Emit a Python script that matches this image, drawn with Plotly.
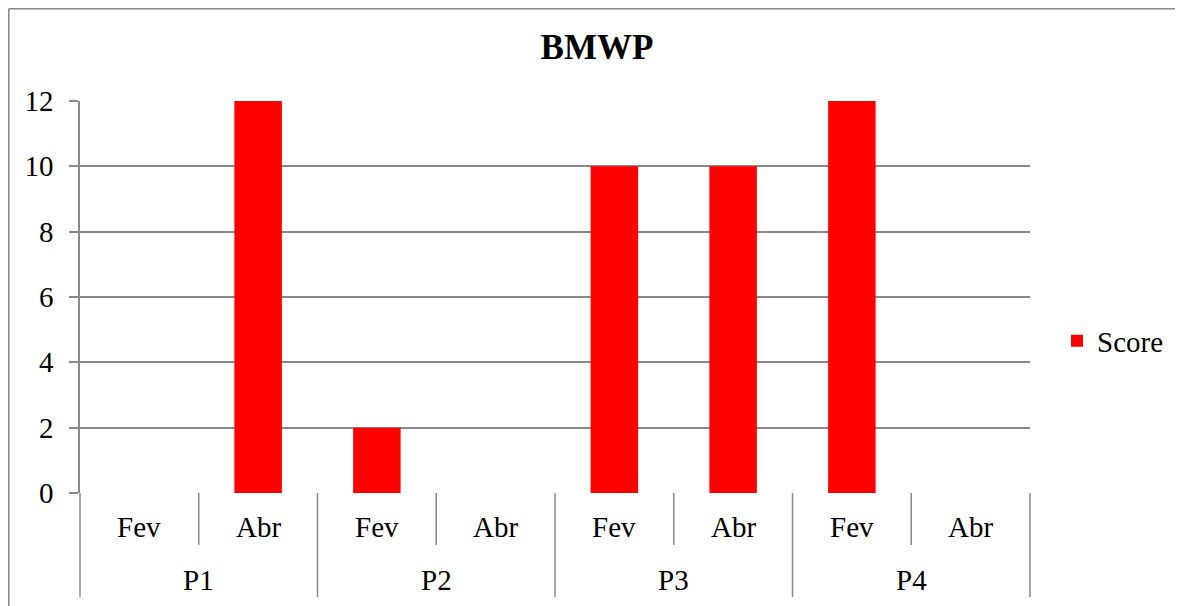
import plotly.graph_objects as go

# ---- data ----
groups = ["P1", "P1", "P2", "P2", "P3", "P3", "P4", "P4"]
months = ["Fev", "Abr", "Fev", "Abr", "Fev", "Abr", "Fev", "Abr"]
scores = [0, 12, 2, 0, 10, 10, 12, 0]
series_name = "Score"
chart_title = "BMWP"
y_ticks = [0, 2, 4, 6, 8, 10, 12]

GRAY = "#898989"
FONT = "Liberation Serif, Times New Roman, serif"
FS = 29
n = len(months)
x_idx = list(range(n))

fig = go.Figure()
fig.add_trace(go.Bar(
    x=x_idx, y=scores, name=series_name,
    marker=dict(color="#FF0000", line=dict(width=0)),
    width=0.4, showlegend=True,
))

# figure-pixel layout (page has an 8px body margin)
W, H = 1183, 606
L, R, T, B = 72, 1022, 93, 485
plot_h = B - T
plot_w = R - L

def py(pix):
    return (B - pix) / plot_h

def px(pix):
    return (pix - L) / plot_w

shapes = []
# chart frame (left and top edges visible)
shapes.append(dict(type="line", xref="paper", yref="paper",
                   x0=px(0.8), x1=px(W + 10), y0=py(0.8), y1=py(0.8),
                   line=dict(color=GRAY, width=1.6)))
shapes.append(dict(type="line", xref="paper", yref="paper",
                   x0=px(0.8), x1=px(0.8), y0=py(0.8), y1=py(H + 10),
                   line=dict(color=GRAY, width=1.6)))

# category dividers
for b in range(n + 1):
    long_div = (b == 0 or b == n or groups[b - 1] != groups[b])
    bottom = 589 if long_div else 537
    shapes.append(dict(type="line", xref="x domain", yref="paper",
                       x0=b / n, x1=b / n, y0=0, y1=py(bottom),
                       line=dict(color=GRAY, width=1.5)))

annotations = []
for i, m in enumerate(months):
    annotations.append(dict(x=i, xref="x", y=py(519), yref="paper",
                            text=m, showarrow=False, yanchor="middle",
                            font=dict(family=FONT, size=FS, color="black")))
seen = []
for g in groups:
    if g not in seen:
        seen.append(g)
for g in seen:
    idx = [i for i, gg in enumerate(groups) if gg == g]
    annotations.append(dict(x=sum(idx) / len(idx), xref="x", y=py(572), yref="paper",
                            text=g, showarrow=False, yanchor="middle",
                            font=dict(family=FONT, size=FS, color="black")))

fig.update_layout(
    width=W, height=H,
    margin=dict(l=L, r=W - R, t=T, b=H - B, pad=0),
    paper_bgcolor="white", plot_bgcolor="white",
    font=dict(family=FONT, size=FS, color="black"),
    title=dict(text="<b>" + chart_title + "</b>", font=dict(family=FONT, size=35, color="black"),
               x=589 / W, xanchor="center", xref="container",
               y=1 - 39 / H, yanchor="middle", yref="container"),
    xaxis=dict(range=[-0.5, n - 0.5], showticklabels=False, showgrid=False,
               zeroline=False, showline=False, ticks="", fixedrange=True),
    yaxis=dict(range=[0, 12], tickvals=y_ticks, showgrid=True, gridcolor=GRAY, gridwidth=1.5,
               zeroline=False, showline=True, linecolor=GRAY, linewidth=1.5,
               ticks="outside", ticklen=9, tickcolor=GRAY, tickwidth=1.5,
               ticklabelstandoff=10,
               tickfont=dict(family=FONT, size=FS, color="black")),
    legend=dict(x=px(1049), xanchor="left", y=py(333), yanchor="middle",
                font=dict(family=FONT, size=FS, color="black"), bgcolor="rgba(0,0,0,0)"),
    shapes=shapes, annotations=annotations,
    bargap=0.6,
)

fig.write_html("out.html")
